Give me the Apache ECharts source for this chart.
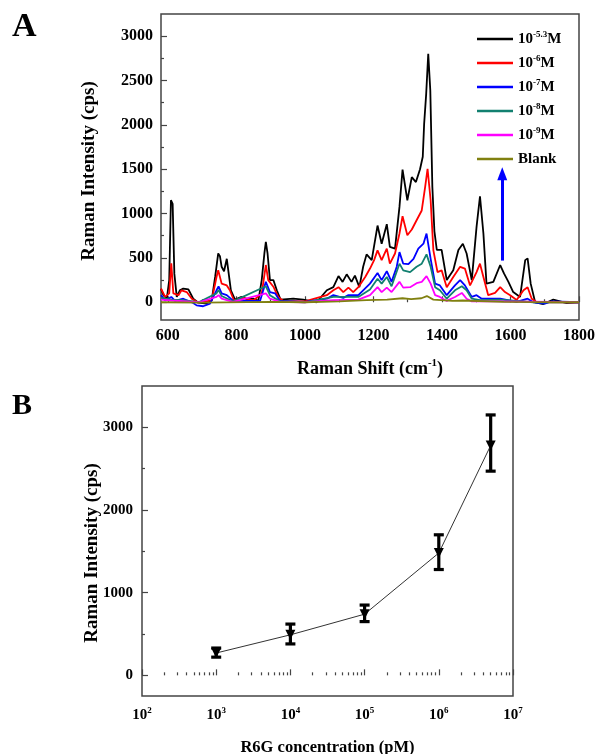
<!DOCTYPE html>
<html>
<head>
<meta charset="utf-8">
<script src="https://cdn.jsdelivr.net/npm/echarts@6/dist/echarts.min.js"></script>
<style>
html,body{margin:0;padding:0;background:#fff;}
#chart{width:597px;height:754px;}
</style>
</head>
<body>
<div id="chart"></div>
<script>
// ---------- Panel A data: Raman spectra [wavenumber, intensity] ----------
var spec53 = [[580,150],[587,80],[597,40],[604,250],[609,1150],[614,1110],[619,320],[626,60],[635,135],[645,155],[660,145],[674,40],[689,-5],[713,-15],[728,20],[738,285],[747,550],[752,520],[757,400],[764,350],[772,490],[777,475],[784,135],[796,30],[815,60],[830,35],[850,40],[864,15],[874,250],[882,560],[886,680],[891,550],[898,250],[908,250],[918,135],[929,30],[966,40],[995,30],[1034,0],[1064,135],[1083,170],[1098,295],[1110,230],[1122,315],[1136,230],[1146,300],[1159,170],[1170,400],[1180,540],[1195,475],[1212,865],[1224,660],[1239,880],[1248,625],[1263,605],[1276,1075],[1285,1495],[1299,1150],[1312,1410],[1324,1355],[1336,1500],[1344,1640],[1348,2010],[1354,2350],[1360,2800],[1366,2390],[1372,1300],[1378,800],[1385,590],[1399,590],[1414,250],[1433,360],[1448,590],[1461,660],[1472,550],[1487,250],[1501,850],[1511,1195],[1521,775],[1530,210],[1550,230],[1570,420],[1581,325],[1594,230],[1608,115],[1628,60],[1643,475],[1650,495],[1659,210],[1672,0],[1696,-20],[1725,30],[1764,-10],[1800,0]];
var spec6 = [[580,155],[592,60],[604,100],[610,440],[616,100],[631,80],[640,135],[655,115],[670,40],[689,-5],[728,20],[742,285],[747,360],[757,210],[772,190],[781,135],[793,20],[820,50],[850,20],[874,100],[886,420],[893,250],[908,175],[922,60],[937,15],[1000,10],[1064,80],[1083,135],[1098,170],[1112,115],[1127,165],[1141,115],[1156,170],[1176,285],[1190,380],[1202,475],[1212,585],[1224,475],[1239,605],[1248,435],[1263,550],[1276,775],[1285,970],[1299,755],[1312,820],[1326,925],[1341,1035],[1351,1300],[1358,1505],[1367,1150],[1375,585],[1387,340],[1399,360],[1414,170],[1433,285],[1453,400],[1467,380],[1482,190],[1501,340],[1511,435],[1521,285],[1535,80],[1555,105],[1570,170],[1584,115],[1599,80],[1618,25],[1638,135],[1650,170],[1662,40],[1677,0],[1800,0]];
var spec7 = [[580,80],[592,20],[610,60],[621,15],[645,40],[674,-8],[684,-35],[703,-45],[723,-15],[742,135],[748,180],[757,100],[772,80],[791,15],[869,15],[886,230],[898,115],[913,100],[927,15],[1000,5],[1064,40],[1083,80],[1112,50],[1127,80],[1156,80],[1190,210],[1212,330],[1224,250],[1239,350],[1253,230],[1268,400],[1276,565],[1287,435],[1302,430],[1317,490],[1331,605],[1346,660],[1355,775],[1367,490],[1380,210],[1394,190],[1414,80],[1438,190],[1453,250],[1467,190],[1487,60],[1501,80],[1516,40],[1570,40],[1618,5],[1650,40],[1667,0],[1700,-15],[1720,10],[1800,0]];
var spec8 = [[580,50],[610,30],[645,25],[690,0],[742,100],[748,140],[757,70],[790,10],[886,180],[898,80],[927,10],[1000,0],[1083,60],[1156,60],[1190,145],[1212,265],[1224,210],[1239,285],[1253,180],[1276,435],[1287,360],[1307,340],[1326,400],[1341,435],[1355,540],[1367,400],[1380,170],[1394,135],[1414,40],[1438,135],[1458,180],[1472,135],[1487,40],[1511,25],[1570,30],[1667,0],[1800,0]];
var spec9 = [[580,30],[610,20],[690,0],[742,60],[748,80],[757,40],[790,5],[886,100],[898,40],[927,5],[1000,0],[1083,25],[1156,30],[1190,80],[1212,170],[1224,115],[1239,165],[1253,115],[1276,230],[1287,165],[1307,170],[1326,215],[1341,230],[1355,295],[1367,210],[1380,80],[1394,60],[1414,15],[1438,60],[1458,105],[1472,40],[1487,10],[1570,10],[1800,0]];
var specBlank = [[580,0],[700,-5],[900,5],[1000,0],[1100,10],[1180,25],[1240,30],[1285,45],[1310,35],[1340,45],[1356,70],[1375,30],[1430,15],[1460,20],[1580,5],[1800,0]];

var seriesNames = ['c53','c6','c7','c8','c9','blank'];
var legendLabels = ['10{sup|-5.3}M','10{sup|-6}M','10{sup|-7}M','10{sup|-8}M','10{sup|-9}M','Blank'];
var seriesColors = ['#000000','#ff0000','#0000ff','#128070','#ff00ff','#808010'];
var spectra = [spec53, spec6, spec7, spec8, spec9, specBlank];

var arrowStart = [1576, 470];
var arrowEnd = [1576, 1450];

var aXMajor = [600, 800, 1000, 1200, 1400, 1600, 1800];
var aXMinor = [700, 900, 1100, 1300, 1500, 1700];
var aYMajor = [0, 500, 1000, 1500, 2000, 2500, 3000];
var aYMinor = [250, 750, 1250, 1750, 2250, 2750];

// ---------- Panel B data ----------
var concentration = [1e3, 1e4, 1e5, 1e6, 5e6];
var intensity = [270, 490, 740, 1480, 2780];
var errLow = [220, 380, 650, 1280, 2470];
var errHigh = [330, 620, 850, 1700, 3150];

var bYMajor = [0, 1000, 2000, 3000];
var bYMinor = [500, 1500, 2500];
var bXMinorLog = [];
for (var e = 2; e < 7; e++) { for (var k = 2; k <= 9; k++) { bXMinorLog.push(Math.log10(k * Math.pow(10, e))); } }

var FONT = '"Liberation Serif", "Times New Roman", serif';
var FRAME = '#444444';
var plain = function (v) { return String(v); };

var chart = echarts.init(document.getElementById('chart'), null, {renderer: 'canvas'});

var aSeries = spectra.map(function (d, i) {
  var s = {
    name: seriesNames[i], type: 'line', xAxisIndex: 0, yAxisIndex: 0,
    data: d, showSymbol: false, symbol: 'none',
    lineStyle: {color: seriesColors[i], width: 1.8},
    itemStyle: {color: seriesColors[i]},
    silent: true, z: 2
  };
  if (i === 0) {
    s.markLine = {
      silent: true, symbol: ['none', 'triangle'], symbolSize: [10, 13],
      label: {show: false},
      lineStyle: {color: '#0000ff', width: 3, type: 'solid'},
      data: [[{coord: arrowStart}, {coord: arrowEnd}]],
      animation: false
    };
  }
  return s;
});

var lblA = {fontFamily: FONT, fontWeight: 'bold', fontSize: 16, color: '#000'};
var lblB = {fontFamily: FONT, fontWeight: 'bold', fontSize: 15, color: '#000'};

var option = {
  animation: false,
  backgroundColor: '#fff',
  graphic: [
    {type: 'text', left: 12, top: 10, style: {text: 'A', fontFamily: FONT, fontWeight: 'bold', fontSize: 34, fill: '#000'}},
    {type: 'text', left: 12, top: 391, style: {text: 'B', fontFamily: FONT, fontWeight: 'bold', fontSize: 30, fill: '#000'}}
  ],
  legend: {
    data: seriesNames,
    orient: 'vertical', left: 477, top: 30, padding: 0,
    icon: 'rect', itemWidth: 36, itemHeight: 2.5, itemGap: 6,
    formatter: function (name) { return legendLabels[seriesNames.indexOf(name)]; },
    textStyle: {
      fontFamily: FONT, fontWeight: 'bold', fontSize: 15, color: '#000', lineHeight: 18,
      rich: {sup: {fontFamily: FONT, fontWeight: 'bold', fontSize: 9, verticalAlign: 'top', lineHeight: 10, color: '#000'}}
    },
    selectedMode: false
  },
  grid: [
    {left: 161, top: 14, width: 418, height: 306, show: true, borderColor: FRAME, borderWidth: 1.5, backgroundColor: 'transparent', outerBoundsMode: 'none', containLabel: false},
    {left: 142, top: 386, width: 371, height: 310, show: true, borderColor: FRAME, borderWidth: 1.5, backgroundColor: 'transparent', outerBoundsMode: 'none', containLabel: false}
  ],
  xAxis: [
    {type: 'value', gridIndex: 0, min: 580, max: 1800, position: 'bottom',
     axisLine: {show: false}, splitLine: {show: false},
     axisTick: {show: true, inside: true, length: 6, customValues: aXMajor, lineStyle: {color: FRAME, width: 1.2}},
     axisLabel: Object.assign({customValues: aXMajor, margin: 8, formatter: plain}, lblA),
     name: 'Raman Shift (cm{sup|-1})', nameLocation: 'middle', nameGap: 38, nameMoveOverlap: false,
     nameTextStyle: {fontFamily: FONT, fontWeight: 'bold', fontSize: 18, color: '#000', lineHeight: 22,
       rich: {sup: {fontFamily: FONT, fontWeight: 'bold', fontSize: 11, verticalAlign: 'top', lineHeight: 12}}}
    },
    {type: 'value', gridIndex: 0, min: 580, max: 1800, position: 'bottom',
     axisLine: {show: false}, splitLine: {show: false}, axisLabel: {show: false},
     axisTick: {show: true, inside: true, length: 3, customValues: aXMinor, lineStyle: {color: FRAME, width: 1.2}}
    },
    {type: 'log', logBase: 10, gridIndex: 1, min: 100, max: 1e7, position: 'bottom',
     axisLine: {show: false}, splitLine: {show: false},
     axisTick: {show: true, inside: true, length: 6, lineStyle: {color: FRAME, width: 1.2}},
     axisLabel: Object.assign({margin: 10,
       formatter: function (v) { return '10{sup|' + Math.round(Math.log10(v)) + '}'; },
       rich: {sup: {fontFamily: FONT, fontWeight: 'bold', fontSize: 9, verticalAlign: 'top', lineHeight: 9}}}, lblB, {lineHeight: 18}),
     name: 'R6G concentration (pM)', nameLocation: 'middle', nameGap: 43, nameMoveOverlap: false,
     nameTextStyle: {fontFamily: FONT, fontWeight: 'bold', fontSize: 16.5, color: '#000'}
    },
    {type: 'value', gridIndex: 1, min: 2, max: 7, position: 'bottom',
     axisLine: {show: false}, splitLine: {show: false}, axisLabel: {show: false},
     axisTick: {show: true, inside: true, length: 3, customValues: bXMinorLog, lineStyle: {color: FRAME, width: 1.2}}
    }
  ],
  yAxis: [
    {type: 'value', gridIndex: 0, min: -200, max: 3250, position: 'left',
     axisLine: {show: false}, splitLine: {show: false},
     axisTick: {show: true, inside: true, length: 6, customValues: aYMajor, lineStyle: {color: FRAME, width: 1.2}},
     axisLabel: Object.assign({customValues: aYMajor, margin: 8, formatter: plain}, lblA),
     name: 'Raman Intensity (cps)', nameLocation: 'middle', nameGap: 62, nameRotate: 90, nameMoveOverlap: false,
     nameTextStyle: {fontFamily: FONT, fontWeight: 'bold', fontSize: 19, color: '#000', padding: [0, 8, 0, 0]}
    },
    {type: 'value', gridIndex: 0, min: -200, max: 3250, position: 'left',
     axisLine: {show: false}, splitLine: {show: false}, axisLabel: {show: false},
     axisTick: {show: true, inside: true, length: 3, customValues: aYMinor, lineStyle: {color: FRAME, width: 1.2}}
    },
    {type: 'value', gridIndex: 1, min: -250, max: 3500, position: 'left',
     axisLine: {show: false}, splitLine: {show: false},
     axisTick: {show: true, inside: true, length: 6, customValues: bYMajor, lineStyle: {color: FRAME, width: 1.2}},
     axisLabel: Object.assign({customValues: bYMajor, margin: 9, formatter: plain}, lblB),
     name: 'Raman Intensity (cps)', nameLocation: 'middle', nameGap: 40, nameRotate: 90, nameMoveOverlap: false,
     nameTextStyle: {fontFamily: FONT, fontWeight: 'bold', fontSize: 19, color: '#000', padding: [0, 24, 0, 0]}
    },
    {type: 'value', gridIndex: 1, min: -250, max: 3500, position: 'left',
     axisLine: {show: false}, splitLine: {show: false}, axisLabel: {show: false},
     axisTick: {show: true, inside: true, length: 3, customValues: bYMinor, lineStyle: {color: FRAME, width: 1.2}}
    }
  ],
  series: aSeries.concat([
    {
      name: 'errorbars', type: 'custom', xAxisIndex: 2, yAxisIndex: 2, silent: true, z: 3,
      data: concentration.map(function (c, i) { return [c, errLow[i], errHigh[i]]; }),
      encode: {x: 0, y: [1, 2]},
      renderItem: function (params, api) {
        var lo = api.coord([api.value(0), api.value(1)]);
        var hi = api.coord([api.value(0), api.value(2)]);
        var hw = 5;
        var st = {stroke: '#000', lineWidth: 3.2};
        return {type: 'group', children: [
          {type: 'line', shape: {x1: lo[0], y1: lo[1], x2: hi[0], y2: hi[1]}, style: st},
          {type: 'line', shape: {x1: lo[0] - hw, y1: lo[1], x2: lo[0] + hw, y2: lo[1]}, style: st},
          {type: 'line', shape: {x1: hi[0] - hw, y1: hi[1], x2: hi[0] + hw, y2: hi[1]}, style: st}
        ]};
      }
    },
    {
      name: 'mean', type: 'line', xAxisIndex: 2, yAxisIndex: 2, silent: true, z: 4,
      data: concentration.map(function (c, i) { return [c, intensity[i]]; }),
      symbol: 'triangle', symbolRotate: 180, symbolSize: 10, showSymbol: true,
      lineStyle: {color: '#333', width: 1},
      itemStyle: {color: '#000'}
    }
  ])
};
chart.setOption(option);
</script>
</body>
</html>
